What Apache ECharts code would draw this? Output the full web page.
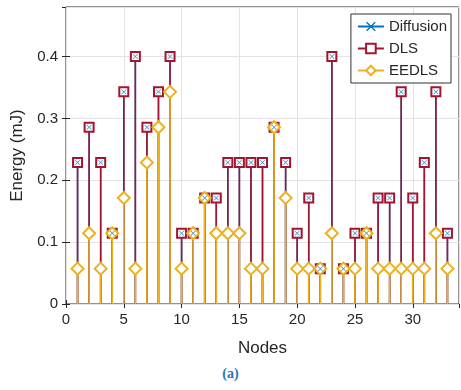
<!DOCTYPE html>
<html lang="en">
  <head>
    <meta charset="UTF-8" />
    <title>Energy per node</title>
    <script src="https://cdn.jsdelivr.net/npm/echarts@6/dist/echarts.min.js"></script>
    <style>
      body { margin: 0; background: #fff; }
      #chart { width: 461px; height: 362px; }
      #cap {
        position: absolute; left: 0; top: 366px; width: 461px; text-align: center;
        font: bold 14px "Liberation Serif", "DejaVu Serif", serif; color: #2a74b8;
      }
    </style>
  </head>
  <body>
    <div id="chart"></div>
    <div id="cap">(a)</div>
  </body>
  <script>
    // energy levels come in steps of 0.4/7
    var step = 0.4 / 7;
    var nodes = [1, 2, 3, 4, 5, 6, 7, 8, 9, 10, 11, 12, 13, 14, 15, 16, 17,
      18, 19, 20, 21, 22, 23, 24, 25, 26, 27, 28, 29, 30, 31, 32, 33];
    // values in units of step
    var diffusion = [4, 5, 4, 2, 6, 7, 5, 6, 7, 2, 2, 3, 3, 4, 4, 4, 4,
      5, 4, 2, 3, 1, 7, 1, 2, 2, 3, 3, 6, 3, 4, 6, 2];
    var dls = [4, 5, 4, 2, 6, 7, 5, 6, 7, 2, 2, 3, 3, 4, 4, 4, 4,
      5, 4, 2, 3, 1, 7, 1, 2, 2, 3, 3, 6, 3, 4, 6, 2];
    var eedls = [1, 2, 1, 2, 3, 1, 4, 5, 6, 1, 2, 3, 2, 2, 2, 1, 1,
      5, 3, 1, 1, 1, 2, 1, 1, 2, 1, 1, 1, 1, 1, 2, 1];
    var yTicks = [0, 0.1, 0.2, 0.3, 0.4];

    // stem data: base point without marker, tip with marker, then a break
    function stems(vals) {
      var out = [];
      vals.forEach(function (v, i) {
        out.push({ value: [nodes[i], 0], symbol: "none" });
        out.push({ value: [nodes[i], v * step] });
        out.push([nodes[i], "-"]);
      });
      return out;
    }
    function tips(vals) {
      return vals.map(function (v, i) { return [nodes[i], v * step]; });
    }

    var xMark = "path://M0,1L1,0L5,4L9,0L10,1L6,5L10,9L9,10L5,6L1,10L0,9L4,5Z";
    var txt = "#262626";
    var font = "Liberation Sans, Arial, sans-serif";

    var chart = echarts.init(document.getElementById("chart"));
    chart.setOption({
      backgroundColor: "#fff",
      animation: false,
      grid: { left: 66, right: 2, top: 7, bottom: 57, show: true,
        borderColor: txt, borderWidth: 1 },
      legend: {
        right: 10, top: 14, orient: "vertical",
        backgroundColor: "#fff", borderColor: "#333", borderWidth: 1,
        padding: [5, 4, 5, 6], itemGap: 7, itemWidth: 26, itemHeight: 12,
        textStyle: { fontSize: 15, fontFamily: font, color: txt },
        data: ["Diffusion", "DLS", "EEDLS"]
      },
      xAxis: [
        { type: "value", min: 0, max: 34, interval: 5,
          name: "Nodes", nameLocation: "middle", nameGap: 36,
          nameTextStyle: { fontSize: 17, fontFamily: font, color: txt },
          axisLine: { show: false },
          axisTick: { inside: true, length: 4, lineStyle: { color: txt } },
          axisLabel: { fontSize: 15, fontFamily: font, color: txt, margin: 8, showMaxLabel: false },
          splitLine: { lineStyle: { color: "#e3e3e3" } } },
        { type: "value", min: 0, max: 34, interval: 5, position: "top",
          axisLine: { show: false }, axisLabel: { show: false }, splitLine: { show: false },
          axisTick: { inside: true, length: 4, lineStyle: { color: txt } } }
      ],
      yAxis: [
        { type: "value", min: 0, max: 0.48, interval: 0.1,
          name: "Energy (mJ)", nameLocation: "middle", nameGap: 34,
          nameTextStyle: { fontSize: 17, fontFamily: font, color: txt },
          axisLine: { show: false },
          axisTick: { inside: true, length: 4, lineStyle: { color: txt } },
          axisLabel: { fontSize: 15, fontFamily: font, color: txt, margin: 8,
            showMaxLabel: false,
            formatter: function (v) {
              var t = yTicks.find(function (k) { return Math.abs(k - v) < 1e-6; });
              return t === undefined ? "" : String(t);
            } },
          splitLine: { lineStyle: { color: "#e3e3e3" } } },
        { type: "value", min: 0, max: 0.48, interval: 0.1, position: "right",
          axisLine: { show: false }, axisLabel: { show: false }, splitLine: { show: false },
          axisTick: { inside: true, length: 4, lineStyle: { color: txt } } }
      ],
      series: [
        { name: "Diffusion", type: "line", data: stems(diffusion),
          symbol: xMark, symbolSize: 7, showAllSymbol: true,
          lineStyle: { color: "#0072BD", width: 1.5 },
          itemStyle: { color: "#0072BD" } },
        { name: "DLS", type: "line", data: stems(dls),
          symbol: "emptyRect", symbolSize: 9, showAllSymbol: true,
          lineStyle: { color: "#A2142F", width: 1.6 },
          itemStyle: { color: "#A2142F", borderColor: "#A2142F", borderWidth: 2 } },
        { name: "EEDLS", type: "line", data: stems(eedls),
          symbol: "emptyDiamond", symbolSize: 12, showAllSymbol: true,
          lineStyle: { color: "#EDB120", width: 1.6 },
          itemStyle: { color: "#EDB120", borderColor: "#EDB120", borderWidth: 1.8 } },
        // blue crosses drawn again on top so they show inside the hollow squares
        { name: "Diffusion marks", type: "scatter", data: tips(diffusion),
          symbol: xMark, symbolSize: 5, z: 5,
          itemStyle: { color: "#0072BD" } }
      ]
    });
  </script>
</html>
